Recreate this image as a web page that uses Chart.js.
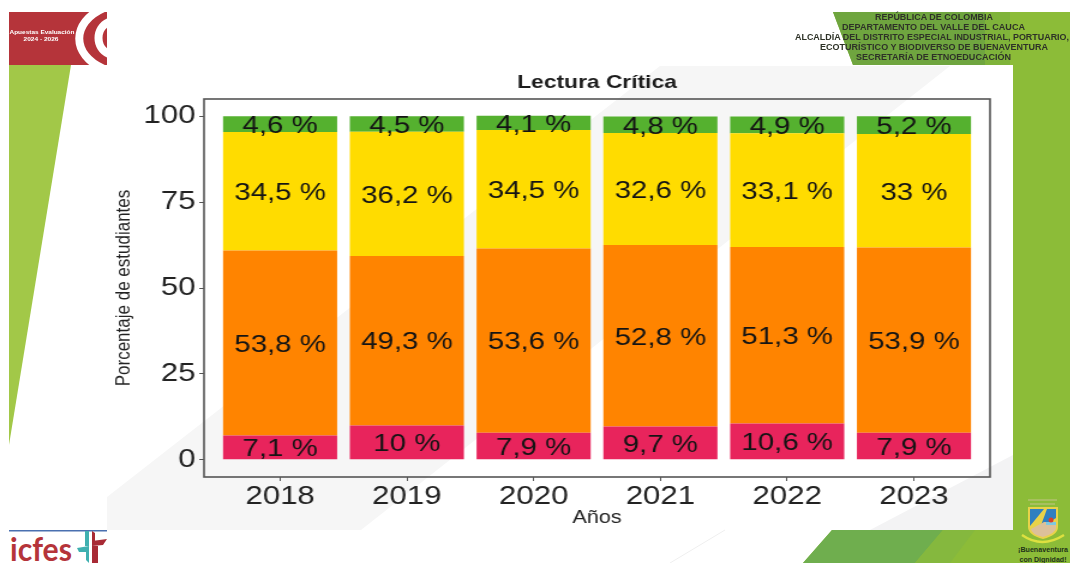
<!DOCTYPE html>
<html lang="es"><head><meta charset="utf-8">
<style>
html,body{margin:0;padding:0;background:#fff;width:1070px;height:563px;overflow:hidden}
#bg{position:absolute;left:0;top:0}
#wrap{position:absolute;left:0;top:0;width:892px;height:563px;transform-origin:0 0;transform:scale(1.2,1)}
</style>
<script src="https://cdn.jsdelivr.net/npm/chart.js@4"></script>
</head><body>
<svg id="bg" width="1070" height="563" viewBox="0 0 1070 563" font-family="Liberation Sans">
  <defs><filter id="soft"><feGaussianBlur stdDeviation="0.35"/></filter></defs>
  <rect x="9" y="12" width="1061" height="551" fill="#fff"/>
  <polygon points="9,65 71,65 9,445" fill="#a2c848"/>
  <polygon points="833,12 1070,12 1070,563 803,563 832,530 1013,530 1013,65 853,65" fill="#8cbc38"/>
  <polygon points="833,12 985,12 985,65 853,65" fill="#6fa53f"/>
  <polygon points="985,12 1010,12 1010,65 985,65" fill="#7fb33a"/>
  <polygon points="832,530 943,530 915,563 803,563" fill="#6fae4e"/>
  <polygon points="943,530 975,530 950,563 915,563" fill="#85b83e"/>
  <polygon points="107,66 1013,66 1013,530 107,530" fill="#ffffff"/>
  <polygon points="107,497 107,530 361,530 950,66 660,66" fill="#f6f6f6"/>
  <polygon points="1013,455 1013,530 870,530" fill="#f3f3f4"/>
  <line x1="725" y1="530" x2="670" y2="563" stroke="#efefef" stroke-width="1"/>
  <rect x="9" y="12" width="98" height="53" fill="#b5343a"/>
  <svg x="9" y="12" width="98" height="53" viewBox="9 12 98 53">
    <g fill="none" stroke="#fff">
      <path d="M104,8 C71,22 71,55 104,69" stroke-width="8"/>
      <path d="M109,22 C95,28 95,48 109,54" stroke-width="8"/>
    </g>
  </svg>
  <g filter="url(#soft)">
  <text x="42" y="34" fill="#fff" font-size="6" font-weight="700" text-anchor="middle" textLength="65" lengthAdjust="spacingAndGlyphs">Apuestas Evaluación</text>
  <text x="41" y="41" fill="#fff" font-size="6" font-weight="700" text-anchor="middle" textLength="35" lengthAdjust="spacingAndGlyphs">2024 - 2026</text>
  <g fill="#2e3328" font-size="8.5" font-weight="700">
    <text x="875" y="20" textLength="118" lengthAdjust="spacingAndGlyphs">REPÚBLICA DE COLOMBIA</text>
    <text x="842" y="30" textLength="183" lengthAdjust="spacingAndGlyphs">DEPARTAMENTO DEL VALLE DEL CAUCA</text>
    <text x="795" y="40" textLength="274" lengthAdjust="spacingAndGlyphs">ALCALDÍA DEL DISTRITO ESPECIAL INDUSTRIAL, PORTUARIO,</text>
    <text x="820" y="50" textLength="228" lengthAdjust="spacingAndGlyphs">ECOTURÍSTICO Y BIODIVERSO DE BUENAVENTURA</text>
    <text x="856" y="60" textLength="155" lengthAdjust="spacingAndGlyphs">SECRETARÍA DE ETNOEDUCACIÓN</text>
  </g>
  </g>
  <rect x="9" y="530" width="98" height="1.5" fill="#4a70b0"/>
  <text x="10" y="561" fill="#b5343a" font-family="Lato" font-size="33" font-weight="700" textLength="62" lengthAdjust="spacingAndGlyphs">icfes</text>
  <polygon points="85,531 89,531 89,546 85,546" fill="#3fb0b0"/>
  <polygon points="77,548 89,546 89,552 79,552" fill="#3fb0b0"/>
  <polygon points="86,552 89,552 89,563 86,560" fill="#3fb0b0"/>
  <polygon points="92,541 107,539 103,545 92,546" fill="#a82a35"/>
  <polygon points="92,546 98,546 98,563 92,563" fill="#a82a35"/>
  <polygon points="92,531 95,533 95,541 92,541" fill="#a82a35"/>
  <!-- escudo -->
  <rect x="1028" y="499" width="29" height="2" fill="#a8c060"/>
  <rect x="1030" y="503" width="25" height="2" fill="#a8c060"/>
  <path d="M1028,507 H1058 V527 Q1058,535 1043,539 Q1028,535 1028,527 Z" fill="#e8d24a"/>
  <path d="M1030,509 H1044 L1030,526 Z" fill="#2f7fc0"/>
  <path d="M1047,509 H1056 V518 L1040,528 Z" fill="#2f7fc0"/>
  <path d="M1031,529 L1044,522 H1056 V528 Q1056,533 1043,537 Q1031,534 1031,529 Z" fill="#dcc09a"/>
  <rect x="1046" y="522" width="10" height="3" fill="#7fc8e0"/>
  <circle cx="1051" cy="520" r="2.5" fill="#d8402a"/>
  <path d="M1022,535 Q1042,549 1064,535" fill="none" stroke="#dde040" stroke-width="2.5"/>
  <g fill="#1f3318" font-size="6.5" font-weight="700" text-anchor="middle">
    <text x="1043" y="552" textLength="50" lengthAdjust="spacingAndGlyphs">¡Buenaventura</text>
    <text x="1043" y="562" textLength="47" lengthAdjust="spacingAndGlyphs">con Dignidad!</text>
  </g>
</svg>
<div id="wrap"><canvas id="c" width="892" height="563"></canvas></div>
<script>
const years = [2018, 2019, 2020, 2021, 2022, 2023];
const yTicks = [0, 25, 50, 75, 100];
const insuficiente = [7.1, 10, 7.9, 9.7, 10.6, 7.9];
const minimo = [53.8, 49.3, 53.6, 52.8, 51.3, 53.9];
const satisfactorio = [34.5, 36.2, 34.5, 32.6, 33.1, 33];
const avanzado = [4.6, 4.5, 4.1, 4.8, 4.9, 5.2];
const chartTitle = 'Lectura Crítica';

const mk = (vals, color) => ({
  data: years.map((y, i) => ({x: y, y: vals[i]})),
  backgroundColor: color, borderWidth: 0, barPercentage: 0.9, categoryPercentage: 1
});
const FONT = '"Liberation Sans", Arial, sans-serif';
const fmt = v => String(v).replace('.', ',') + ' %';

const labelsPlugin = {
  id: 'segLabels',
  afterDatasetsDraw(chart) {
    const ctx = chart.ctx;
    ctx.save();
    ctx.font = '24.5px ' + FONT;
    ctx.fillStyle = '#141414';
    ctx.textAlign = 'center';
    ctx.textBaseline = 'middle';
    chart.data.datasets.forEach((ds, d) => {
      chart.getDatasetMeta(d).data.forEach((bar, i) => {
        const p = bar.getProps(['x', 'y', 'base'], true);
        ctx.fillText(fmt(ds.data[i].y), p.x, (p.y + p.base) / 2 + 2);
      });
    });
    ctx.restore();
  }
};
const framePlugin = {
  id: 'frame',
  afterDraw(chart) {
    const a = chart.chartArea, ctx = chart.ctx;
    ctx.save();
    ctx.strokeStyle = '#555';
    ctx.lineWidth = 1.6;
    ctx.strokeRect(a.left, a.top, a.right - a.left, a.bottom - a.top);
    ctx.fillStyle = '#1c1c1c';
    ctx.font = 'bold 19px ' + FONT;
    ctx.textAlign = 'center';
    ctx.textBaseline = 'middle';
    ctx.fillText(chartTitle, (a.left + a.right) / 2, 83);
    ctx.restore();
  }
};

new Chart(document.getElementById('c'), {
  type: 'bar',
  data: { datasets: [
    mk(insuficiente, '#e8245c'),
    mk(minimo, '#ff8400'),
    mk(satisfactorio, '#ffdc00'),
    mk(avanzado, '#55b12f')
  ]},
  plugins: [labelsPlugin, framePlugin],
  options: {
    responsive: false,
    animation: false,
    devicePixelRatio: 1,
    layout: { padding: { left: 0, right: 67, top: 99, bottom: 34 } },
    plugins: {
      legend: { display: false },
      tooltip: { enabled: false }
    },
    scales: {
      x: {
        type: 'linear', stacked: true, min: 2017.4, max: 2023.6, offset: false,
        afterBuildTicks: s => { s.ticks = years.map(v => ({value: v})); },
        afterFit: s => { s.height = 52; },
        ticks: { callback: v => String(v), color: '#222', padding: 0, maxRotation: 0, font: { family: FONT, size: 26 } },
        grid: { drawOnChartArea: false, drawTicks: true, tickLength: 4, color: '#555', offset: false },
        border: { display: false },
        title: { display: true, text: 'Años', color: '#222', font: { family: FONT, size: 18 }, padding: { top: 0, bottom: 0 } }
      },
      y: {
        stacked: true, min: -5, max: 105,
        afterBuildTicks: s => { s.ticks = yTicks.map(v => ({value: v})); },
        afterFit: s => { s.width = 170; },
        ticks: { color: '#222', padding: 3, font: { family: FONT, size: 26 } },
        grid: { drawOnChartArea: false, drawTicks: true, tickLength: 4, color: '#555' },
        border: { display: false },
        title: { display: true, text: 'Porcentaje de estudiantes', color: '#222', font: { family: FONT, size: 17 }, padding: { top: 93 } }
      }
    }
  }
});
</script>
</body></html>
